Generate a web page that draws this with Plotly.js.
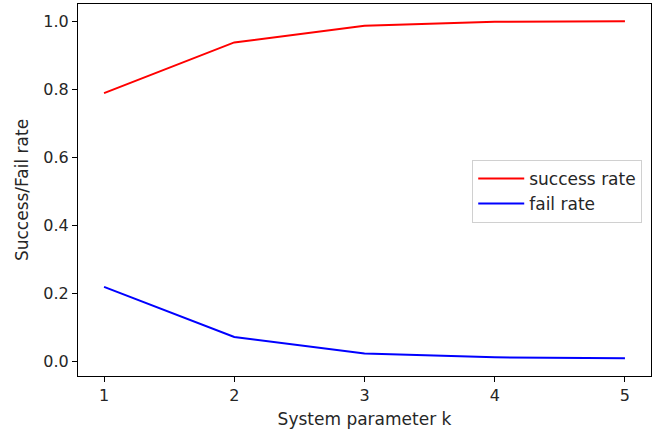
<!DOCTYPE html>
<html>
<head>
<meta charset="utf-8">
<script src="https://cdn.plot.ly/plotly-3.0.1.min.js"></script>
<style>html,body{margin:0;padding:0;background:#fff;}#chart{width:659px;height:435px;}</style>
</head>
<body>
<div id="chart"></div>
<script>
const kValues = [1, 2, 3, 4, 5];
const successRate = [0.789, 0.938, 0.987, 0.999, 1.0];
const failRate = [0.219, 0.072, 0.023, 0.012, 0.009];
const seriesNames = ['success rate', 'fail rate'];
const yTicks = [0.0, 0.2, 0.4, 0.6, 0.8, 1.0];
const yTickLabels = ['0.0', '0.2', '0.4', '0.6', '0.8', '1.0'];

const FONT = 'DejaVu Sans, sans-serif';
const FS = 17;
const traces = [
  {x: kValues, y: successRate, name: seriesNames[0], mode: 'lines', line: {color: '#ff0000', width: 2}},
  {x: kValues, y: failRate, name: seriesNames[1], mode: 'lines', line: {color: '#0000ff', width: 2}}
];
const layout = {
  width: 659, height: 435,
  margin: {l: 78, r: 8, t: 4, b: 59},
  paper_bgcolor: '#fff', plot_bgcolor: '#fff',
  font: {family: FONT, size: FS, color: '#262626'},
  showlegend: true,
  legend: {x: 0.688, y: 0.581, xanchor: 'left', yanchor: 'top', bordercolor: '#d0d0d0', borderwidth: 1,
           itemwidth: 46, tracegroupgap: 0,
           bgcolor: 'rgba(255,255,255,0.8)', font: {family: FONT, size: FS, color: '#262626'}},
  xaxis: {
    range: [0.8, 5.2], tickvals: kValues, ticktext: kValues.map(String),
    showgrid: false, zeroline: false, showline: true, mirror: true, linecolor: '#000', linewidth: 1,
    ticks: 'outside', ticklen: 5, tickcolor: '#000', tickfont: {family: FONT, size: 16, color: '#262626'},
    title: {text: 'System parameter k', font: {family: FONT, size: FS, color: '#262626'}, standoff: 8}
  },
  yaxis: {
    range: [-0.043, 1.051], tickvals: yTicks, ticktext: yTickLabels,
    showgrid: false, zeroline: false, showline: true, mirror: true, linecolor: '#000', linewidth: 1,
    ticks: 'outside', ticklen: 5, tickcolor: '#000', tickfont: {family: FONT, size: 16, color: '#262626'},
    title: {text: 'Success/Fail rate', font: {family: FONT, size: FS, color: '#262626'}, standoff: 10}
  }
};
Plotly.newPlot('chart', traces, layout, {staticPlot: true, displayModeBar: false});
</script>
</body>
</html>
